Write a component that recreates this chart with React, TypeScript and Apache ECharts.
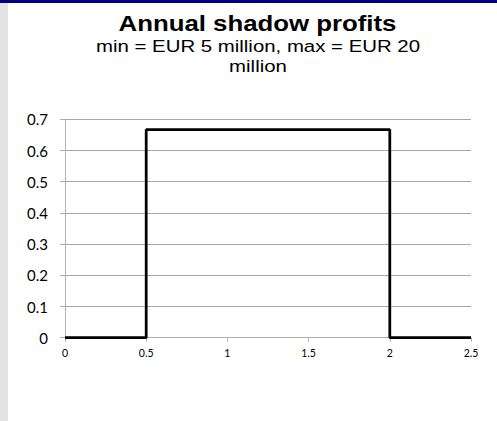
import React, { useEffect, useRef } from "react";
import * as echarts from "echarts";

const titleText = "Annual shadow profits";
const subtitleLines = ["min = EUR 5 million, max = EUR 20", "million"];
const xTicks = [0, 0.5, 1, 1.5, 2, 2.5];
const yTicks = [0, 0.1, 0.2, 0.3, 0.4, 0.5, 0.6, 0.7];
const stepX = [0, 0.5, 0.5, 2, 2, 2.5];
const stepY = [0, 0, 0.6667, 0.6667, 0, 0];

export default function App() {
  const ref = useRef<HTMLDivElement>(null);
  useEffect(() => {
    document.body.style.margin = "0";
    const chart = echarts.init(ref.current!, undefined, { renderer: "svg" });
    const data = stepX.map((x, i) => [x, stepY[i]]);
    chart.setOption({
      animation: false,
      backgroundColor: "#ffffff",
      graphic: [
        { type: "rect", shape: { x: 0, y: 0, width: 497, height: 3 }, style: { fill: "#000080" }, z: 10 },
        { type: "rect", shape: { x: 0, y: 3, width: 8, height: 418 }, style: { fill: "#e3e3e3" }, z: 10 },
        {
          type: "text",
          x: 257.5,
          y: 24,
          scaleX: 1.2,
          style: {
            text: titleText,
            fontFamily: "Liberation Sans, Arial, sans-serif",
            fontWeight: "bold",
            fontSize: 21.5,
            fill: "#000",
            align: "center",
            verticalAlign: "middle",
          },
        },
        {
          type: "text",
          x: 258,
          y: 46,
          scaleX: 1.2,
          style: {
            text: subtitleLines[0],
            fontFamily: "Liberation Sans, Arial, sans-serif",
            fontSize: 17,
            fill: "#000",
            align: "center",
            verticalAlign: "middle",
          },
        },
        {
          type: "text",
          x: 258,
          y: 66,
          scaleX: 1.2,
          style: {
            text: subtitleLines[1],
            fontFamily: "Liberation Sans, Arial, sans-serif",
            fontSize: 17,
            fill: "#000",
            align: "center",
            verticalAlign: "middle",
          },
        },
      ],
      grid: { left: 65, right: 26, top: 119.3, bottom: 83.3, containLabel: false },
      xAxis: {
        type: "value",
        min: xTicks[0],
        max: xTicks[xTicks.length - 1],
        interval: 0.5,
        axisLine: { show: true, lineStyle: { color: "#b0b0b0", width: 1 } },
        axisTick: { show: true, length: 4, lineStyle: { color: "#b0b0b0" } },
        splitLine: { show: false },
        axisLabel: {
          margin: 10,
          fontSize: 10.5,
          fontFamily: "Lato, sans-serif",
          color: "#000",
        },
      },
      yAxis: {
        type: "value",
        min: yTicks[0],
        max: yTicks[yTicks.length - 1],
        interval: 0.1,
        axisLine: { show: true, lineStyle: { color: "#b0b0b0", width: 1 } },
        axisTick: { show: true, length: 5, lineStyle: { color: "#b0b0b0" } },
        splitLine: { show: true, lineStyle: { color: "#a6a6a6", width: 1 } },
        axisLabel: {
          margin: 17,
          fontSize: 15,
          fontFamily: "Lato, sans-serif",
          color: "#000",
        },
      },
      series: [
        {
          type: "line",
          data,
          showSymbol: false,
          lineStyle: { color: "#000", width: 2.75 },
          z: 5,
        },
      ],
    });
    return () => chart.dispose();
  }, []);
  return <div ref={ref} style={{ position: "absolute", left: 0, top: 0, width: 497, height: 421 }} />;
}
